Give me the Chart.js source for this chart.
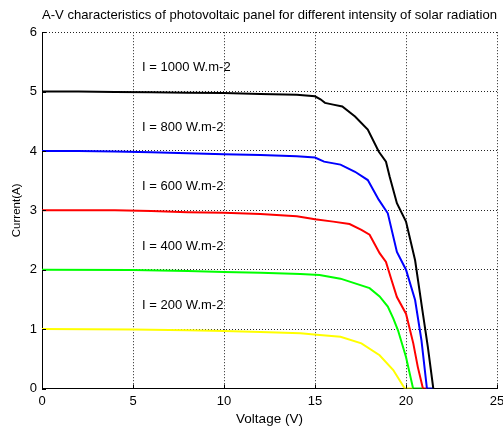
<!DOCTYPE html>
<html>
<head>
<meta charset="utf-8">
<script src="https://cdn.jsdelivr.net/npm/chart.js@4.4.1/dist/chart.umd.min.js"></script>
<style>
  html, body { margin: 0; padding: 0; background: #fff; }
  #wrap { width: 503px; height: 427px; }
</style>
</head>
<body>
<div id="wrap"><canvas id="pv" width="503" height="427"></canvas></div>
<script>
// I-V curves of a PV panel, one per irradiance level

const intensities = [1000, 800, 600, 400, 200];
const colors      = ['#000000', '#0000ff', '#ff0000', '#00ff00', '#ffff00'];

const v1000 = [0, 2, 4, 6, 8, 10, 12, 14, 15, 15.3, 15.55, 16.0, 16.5, 17.2, 17.9, 18.5, 18.9, 19.1, 19.5, 20.0, 20.5, 20.9, 21.2, 21.5];
const i1000 = [5.0, 5.0, 4.995, 4.99, 4.98, 4.975, 4.96, 4.945, 4.92, 4.87, 4.81, 4.78, 4.75, 4.58, 4.36, 3.99, 3.82, 3.57, 3.12, 2.81, 2.16, 1.32, 0.70, 0];

const v800 = [0, 2, 4, 6, 8, 10, 12, 14, 15, 15.5, 16.4, 17.2, 17.9, 18.5, 19.0, 19.5, 20.0, 20.5, 20.85, 21.15, 21.5];
const i800 = [4.0, 4.0, 3.99, 3.98, 3.96, 3.945, 3.93, 3.91, 3.89, 3.82, 3.77, 3.65, 3.51, 3.18, 2.95, 2.30, 2.0, 1.49, 0.81, 0, 0];

const v600 = [0, 4, 6, 8, 10, 12, 14, 15, 16, 16.9, 17.55, 18.0, 18.55, 18.9, 19.2, 19.5, 20.0, 20.4, 20.65, 20.93, 21.15];
const i600 = [3.0, 3.0, 2.99, 2.97, 2.96, 2.94, 2.9, 2.85, 2.81, 2.77, 2.67, 2.59, 2.28, 2.13, 1.83, 1.54, 1.26, 0.76, 0.36, 0, 0];

const v400 = [0, 5, 8, 10, 12, 14.2, 15.25, 16.4, 18.0, 18.55, 19.0, 19.3, 19.56, 20.0, 20.39, 20.93];
const i400 = [2.0, 1.995, 1.98, 1.96, 1.95, 1.93, 1.91, 1.85, 1.69, 1.55, 1.38, 1.18, 0.98, 0.53, 0, 0];

const v200 = [0, 5, 8, 10, 12, 14.2, 15.25, 16.4, 17.55, 18.55, 19.3, 19.93, 20.39];
const i200 = [1.0, 0.995, 0.98, 0.97, 0.95, 0.93, 0.90, 0.87, 0.76, 0.56, 0.31, 0, 0];

const voltages = [v1000, v800, v600, v400, v200];
const currents = [i1000, i800, i600, i400, i200];

const xTicks = [0, 5, 10, 15, 20, 25];
const yTicks = [0, 1, 2, 3, 4, 5, 6];

const FONT = "'Liberation Sans', Arial, Helvetica, sans-serif";

function toPoints(xs, ys) {
  return xs.map((x, k) => ({ x, y: ys[k] }));
}

// ── plugins ──────────────────────────────────────────────────────────────

// MATLAB style ticks pointing into the axes
const inwardTicks = {
  id: 'inwardTicks',
  afterDraw(chart) {
    const { ctx, chartArea: a, scales: { x, y } } = chart;
    ctx.save();
    ctx.strokeStyle = '#000';
    ctx.lineWidth = 1;
    ctx.beginPath();
    xTicks.forEach(t => {
      const px = Math.round(x.getPixelForValue(t)) + 0.5;
      ctx.moveTo(px, a.bottom);
      ctx.lineTo(px, a.bottom - 4);
    });
    yTicks.forEach(t => {
      const py = Math.round(y.getPixelForValue(t)) + 0.5;
      ctx.moveTo(a.left, py);
      ctx.lineTo(a.left + 4, py);
    });
    ctx.stroke();
    ctx.restore();
  },
};

// "I = ... W.m-2" text above each curve
const curveLabels = {
  id: 'curveLabels',
  afterDatasetsDraw(chart) {
    const { ctx, scales: { x, y } } = chart;
    ctx.save();
    ctx.font = `13px ${FONT}`;
    ctx.fillStyle = '#000';
    ctx.textAlign = 'left';
    ctx.textBaseline = 'middle';
    intensities.forEach((w, k) => {
      const px = x.getPixelForValue(5.5);
      const py = y.getPixelForValue(currents[k][0] + 0.4);
      ctx.fillText(`I = ${w} W.m-2`, px, py);
    });
    ctx.restore();
  },
};

// ── chart ────────────────────────────────────────────────────────────────

new Chart(document.getElementById('pv'), {
  type: 'line',
  data: {
    datasets: intensities.map((w, k) => ({
      label: `I = ${w} W.m-2`,
      data: toPoints(voltages[k], currents[k]),
      borderColor: colors[k],
      borderWidth: 2,
      pointRadius: 0,
      tension: 0,
      fill: false,
    })),
  },
  options: {
    responsive: false,
    animation: false,
    devicePixelRatio: 1,
    layout: { padding: { left: 0, right: 6, top: 0, bottom: 0 } },
    plugins: {
      legend: { display: false },
      tooltip: { enabled: false },
      title: {
        display: true,
        fullSize: false,
        text: 'A-V characteristics of photovoltaic panel for different intensity of solar radiation',
        color: '#000',
        font: { family: FONT, size: 13.5, weight: 'normal' },
        padding: { top: 7, bottom: 9 },
      },
    },
    scales: {
      x: {
        type: 'linear',
        min: 0,
        max: 25,
        afterBuildTicks: s => { s.ticks = xTicks.map(v => ({ value: v })); },
        afterFit: s => { s.height = 38.5; s.paddingLeft = 0; s.paddingRight = 0; },
        grid: { color: '#222', lineWidth: 1, drawTicks: false },
        border: { display: true, color: '#000', width: 1, dash: [1, 2] },
        ticks: { color: '#000', padding: 5, font: { family: FONT, size: 13 } },
        title: {
          display: true,
          text: 'Voltage (V)',
          color: '#000',
          font: { family: FONT, size: 13.5 },
          padding: { top: 0, bottom: 0 },
        },
      },
      y: {
        type: 'linear',
        min: 0,
        max: 6,
        afterBuildTicks: s => { s.ticks = yTicks.map(v => ({ value: v })); },
        afterFit: s => { s.width = 42; s.paddingTop = 0; s.paddingBottom = 0; },
        grid: { color: '#222', lineWidth: 1, drawTicks: false },
        border: { display: true, color: '#000', width: 1, dash: [1, 2] },
        ticks: { color: '#000', padding: 5, font: { family: FONT, size: 13 } },
        title: {
          display: true,
          text: 'Current(A)',
          color: '#000',
          font: { family: FONT, size: 11.5 },
          padding: { top: 10, bottom: 0 },
        },
      },
    },
  },
  plugins: [inwardTicks, curveLabels],
});
</script>
</body>
</html>
